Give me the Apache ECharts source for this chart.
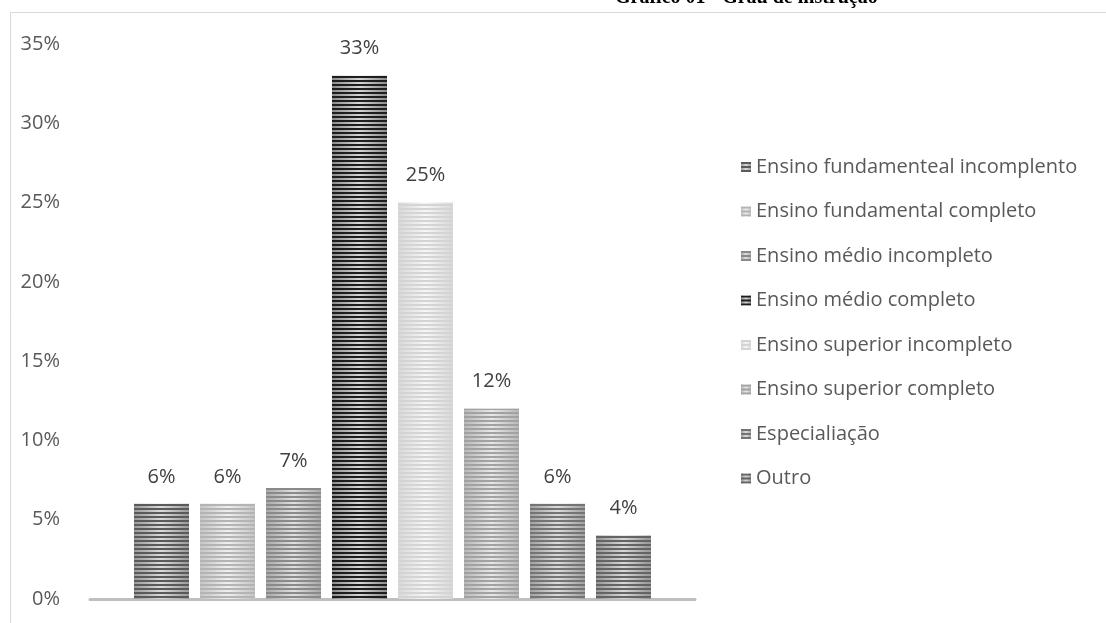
<!DOCTYPE html>
<html>
<head>
<meta charset="utf-8">
<script src="https://cdn.jsdelivr.net/npm/echarts@6/dist/echarts.min.js"></script>
<style>
  html, body { margin: 0; padding: 0; background: #fff; }
  #chart { width: 1106px; height: 623px; }
</style>
</head>
<body>
<div id="chart"></div>
<script>
// Education level shares (percent of respondents)
const seriesNames = [
  'Ensino fundamenteal incomplento',
  'Ensino fundamental completo',
  'Ensino médio incompleto',
  'Ensino médio completo',
  'Ensino superior incompleto',
  'Ensino superior completo',
  'Especialiação',
  'Outro'
];
const seriesValues = [6, 6, 7, 33, 25, 12, 6, 4];
const categoryLabels = ['Grau de instrução'];
const yTicks = { min: 0, max: 35, step: 5 };

// Grey striped fills: base edge tone, lighter centre tone, stripe tone
const edgeTones   = ['#9a9a9a', '#c4c4c4', '#a8a8a8', '#8c8c8c', '#d8d8d8', '#b8b8b8', '#a0a0a0', '#969696'];
const centreTones = ['#dadada', '#efefef', '#e0e0e0', '#d6d6d6', '#f6f6f6', '#e8e8e8', '#dcdcdc', '#d8d8d8'];
const stripeTones = ['#5a5a5a', '#b4b4b4', '#8a8a8a', '#1e1e1e', '#d4d4d4', '#a2a2a2', '#747474', '#646464'];

const FONT = 'Open Sans';

const chart = echarts.init(document.getElementById('chart'), null, { renderer: 'canvas' });

const series = seriesNames.map((name, i) => ({
  name: name,
  type: 'bar',
  barWidth: 55,
  barGap: '20%',
  data: [seriesValues[i]],
  itemStyle: {
    color: {
      type: 'linear', x: 0, y: 0, x2: 1, y2: 0,
      colorStops: [
        { offset: 0, color: edgeTones[i] },
        { offset: 0.5, color: centreTones[i] },
        { offset: 1, color: edgeTones[i] }
      ]
    },
    decal: {
      symbol: 'rect',
      symbolSize: 1,
      dashArrayX: [1, 0],
      dashArrayY: [2, 2],
      rotation: 0,
      color: stripeTones[i]
    }
  },
  label: {
    show: true,
    position: 'top',
    distance: 17,
    formatter: '{c}%',
    color: '#404040',
    fontSize: 20,
    fontFamily: FONT
  }
}));

chart.setOption({
  animation: false,
  backgroundColor: '#ffffff',
  graphic: [
    {
      type: 'rect',
      left: 8, top: 10,
      shape: { width: 1200, height: 700 },
      style: { fill: 'none', stroke: '#d9d9d9', lineWidth: 1 },
      silent: true
    },
    {
      type: 'text',
      left: 615, top: -12,
      style: {
        text: 'Gráfico 01 - Grau de instrução',
        font: 'bold 20px "Liberation Serif"',
        fill: '#000000'
      },
      silent: true
    }
  ],
  grid: { left: 90, right: 411, top: 44, bottom: 24, containLabel: false },
  legend: {
    orient: 'vertical',
    left: 736,
    top: 152,
    itemWidth: 10,
    itemHeight: 10,
    itemGap: 24.5,
    icon: 'rect',
    textStyle: { color: '#595959', fontSize: 20, fontFamily: FONT },
    data: seriesNames
  },
  xAxis: {
    type: 'category',
    data: categoryLabels,
    axisLine: { lineStyle: { color: '#bfbfbf', width: 3 } },
    axisTick: { show: false },
    axisLabel: { show: false }
  },
  yAxis: {
    type: 'value',
    min: yTicks.min,
    max: yTicks.max,
    interval: yTicks.step,
    axisLine: { show: false },
    axisTick: { show: false },
    splitLine: { show: false },
    axisLabel: {
      formatter: '{value}%',
      color: '#595959',
      fontSize: 20,
      fontFamily: FONT,
      margin: 30
    }
  },
  series: series
});
</script>
</body>
</html>
